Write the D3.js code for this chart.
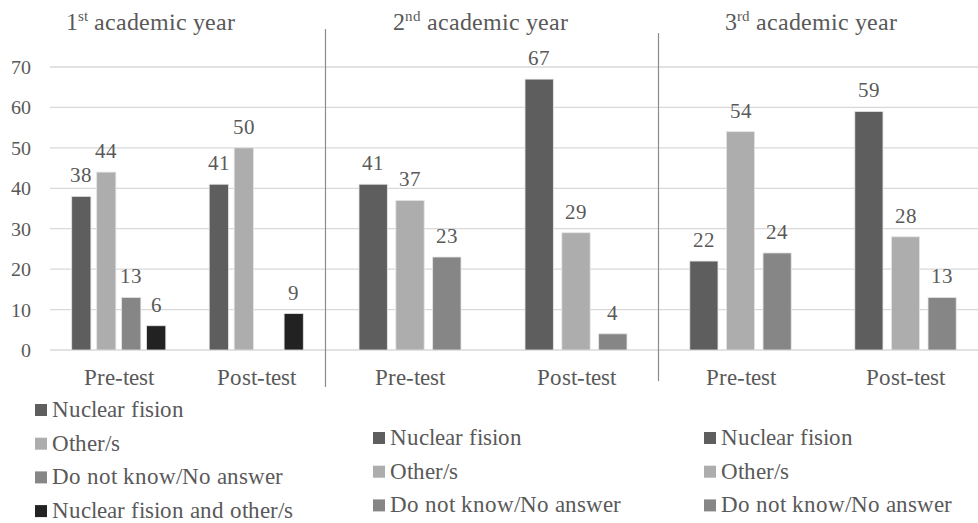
<!DOCTYPE html>
<html>
<head>
<meta charset="utf-8">
<script src="https://cdn.jsdelivr.net/npm/d3@7/dist/d3.min.js"></script>
<style>
  @font-face {
    font-family: "ChartSerif";
    src: local("Liberation Serif"), local("LiberationSerif"), local("Tinos"), local("Tinos-Regular");
  }
  html, body { margin: 0; padding: 0; background: #ffffff; }
  #chart { display: block; }
  #chart text { font-family: "ChartSerif", "Liberation Serif", serif; }
</style>
</head>
<body>
<svg id="chart" width="978" height="523"></svg>
<script>
// ---- data ----
const yearOrdinals = ["1", "2", "3"];
const yearSuffixes = ["st", "nd", "rd"];
const phases = ["Pre-test", "Post-test"];
const seriesNames = ["Nuclear fision", "Other/s", "Do not know/No answer", "Nuclear fision and other/s"];
const seriesColors = ["#5e5e5e", "#adadad", "#868686", "#222222"];
const yTicks = [0, 10, 20, 30, 40, 50, 60, 70];

// percentages per series, one array per test
const year1Pre  = [38, 44, 13, 6];
const year1Post = [41, 50, null, 9];
const year2Pre  = [41, 37, 23];
const year2Post = [67, 29, 4];
const year3Pre  = [22, 54, 24];
const year3Post = [59, 28, 13];

const panels = [
  { ord: yearOrdinals[0], suf: yearSuffixes[0], values: [year1Pre, year1Post], nSeries: 4 },
  { ord: yearOrdinals[1], suf: yearSuffixes[1], values: [year2Pre, year2Post], nSeries: 3 },
  { ord: yearOrdinals[2], suf: yearSuffixes[2], values: [year3Pre, year3Post], nSeries: 3 }
];

// ---- layout ----
const TEXT_COLOR = "#595959";
const FONT = "ChartSerif, 'Liberation Serif', serif";
const svg = d3.select("#chart");
const y = d3.scaleLinear().domain([0, 70]).range([350, 67]);
const panelExtents = [[50, 325], [327, 659], [658, 988]];
const titleCenters = [150, 480, 811];
const separators = [{ x: 325.5, y1: 29, y2: 387 }, { x: 658.5, y1: 33, y2: 381 }];
const legendLayout = [
  { swatchX: 35, textX: 52, firstBaseline: 417 },
  { swatchX: 373, textX: 390, firstBaseline: 445 },
  { swatchX: 704, textX: 721, firstBaseline: 445 }
];
const legendStep = 33.7;

function styleText(sel, size) {
  return sel.style("font-family", FONT)
    .attr("font-size", size)
    .attr("fill", TEXT_COLOR);
}

// horizontal gridlines
svg.append("g")
  .selectAll("line")
  .data(yTicks)
  .join("line")
  .attr("x1", 50).attr("x2", 978)
  .attr("y1", d => y(d)).attr("y2", d => y(d))
  .attr("stroke", "#d9d9d9")
  .attr("stroke-width", 1.3);

// value axis labels
svg.append("g")
  .selectAll("text")
  .data(yTicks)
  .join("text")
  .attr("x", 31)
  .attr("y", d => y(d) + 7)
  .attr("text-anchor", "end")
  .call(s => styleText(s, 20))
  .text(d => d);

// panel separators
svg.append("g")
  .selectAll("line")
  .data(separators)
  .join("line")
  .attr("x1", d => d.x).attr("x2", d => d.x)
  .attr("y1", d => d.y1).attr("y2", d => d.y2)
  .attr("stroke", "#8c8c8c")
  .attr("stroke-width", 1.2);

panels.forEach((p, pi) => {
  const g = svg.append("g");
  const x0 = d3.scaleBand().domain(phases).range(panelExtents[pi]).padding(0);
  const band = x0.bandwidth();
  const n = p.nSeries;
  // bar width from gap width 226% and 30% space between bars
  const w = band / (n + 0.3 * (n - 1) + 2.26);
  const gw = n * w + (n - 1) * 0.3 * w;
  const x1 = d3.scaleBand()
    .domain(d3.range(n))
    .range([-gw / 2, gw / 2])
    .paddingInner(0.3 / 1.3)
    .paddingOuter(0);

  // title with superscript ordinal suffix
  const t = g.append("text")
    .attr("x", titleCenters[pi]).attr("y", 30)
    .attr("text-anchor", "middle")
    .call(s => styleText(s, 24));
  t.append("tspan").text(p.ord);
  t.append("tspan").attr("font-size", 15).attr("dy", -9).text(p.suf);
  t.append("tspan").attr("dy", 9).text(" academic year");

  phases.forEach((ph, phi) => {
    const cx = x0(ph) + band / 2;
    const vals = p.values[phi].map((v, i) => ({ v, i })).filter(d => d.v !== null);

    g.append("g").selectAll("rect")
      .data(vals)
      .join("rect")
      .attr("x", d => cx + x1(d.i))
      .attr("width", x1.bandwidth())
      .attr("y", d => y(d.v))
      .attr("height", d => y(0) - y(d.v))
      .attr("fill", d => seriesColors[d.i])
      .attr("stroke", "#e4e4e4")
      .attr("stroke-width", 0.8);

    g.append("g").selectAll("text")
      .data(vals)
      .join("text")
      .attr("x", d => cx + x1(d.i) + x1.bandwidth() / 2)
      .attr("y", d => y(d.v) - 14)
      .attr("text-anchor", "middle")
      .call(s => styleText(s, 21))
      .text(d => d.v);

    g.append("text")
      .attr("x", cx).attr("y", 385)
      .attr("text-anchor", "middle")
      .call(s => styleText(s, 23))
      .text(ph);
  });

  // legend
  const L = legendLayout[pi];
  const rows = g.append("g").selectAll("g")
    .data(seriesNames.slice(0, n))
    .join("g")
    .attr("transform", (d, i) => `translate(0,${L.firstBaseline + i * legendStep})`);
  rows.append("rect")
    .attr("x", L.swatchX).attr("y", -13)
    .attr("width", 12).attr("height", 12)
    .attr("fill", (d, i) => seriesColors[i]);
  rows.append("text")
    .attr("x", L.textX).attr("y", 0)
    .call(s => styleText(s, 23))
    .text(d => d);
});
</script>
</body>
</html>
